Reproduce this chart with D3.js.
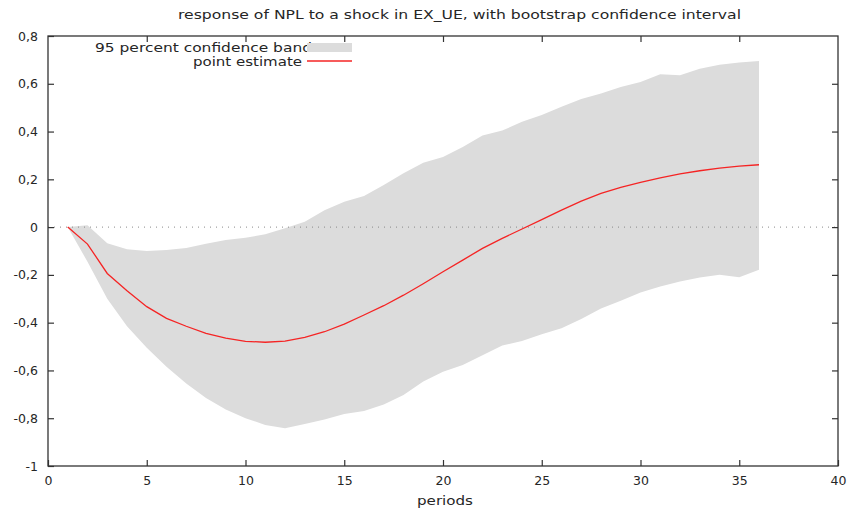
<!DOCTYPE html>
<html>
<head>
<meta charset="utf-8">
<script src="https://cdn.jsdelivr.net/npm/d3@7"></script>
<style>
    body { margin: 0; background: #fff; }
    text { font-family: "DejaVu Sans", sans-serif; fill: #262626; }
</style>
</head>
<body>
<svg id="chart" width="850" height="508"></svg>
<script>
// impulse response
var periods = [1, 2, 3, 4, 5, 6, 7, 8, 9, 10, 11, 12, 13, 14, 15, 16, 17, 18,
               19, 20, 21, 22, 23, 24, 25, 26, 27, 28, 29, 30, 31, 32, 33, 34, 35, 36];

var estimate = [0, -0.071, -0.194, -0.266, -0.333, -0.382, -0.415, -0.445, -0.465, -0.478,
                -0.482, -0.477, -0.462, -0.438, -0.406, -0.368, -0.329, -0.285, -0.237, -0.187,
                -0.138, -0.089, -0.047, -0.008, 0.031, 0.071, 0.109, 0.141, 0.166, 0.187,
                0.206, 0.223, 0.236, 0.247, 0.255, 0.261];

var upper = [0, 0.008, -0.068, -0.093, -0.100, -0.096, -0.087, -0.070, -0.054, -0.045,
             -0.030, -0.005, 0.022, 0.071, 0.106, 0.130, 0.176, 0.225, 0.269, 0.294,
             0.335, 0.383, 0.404, 0.441, 0.469, 0.504, 0.536, 0.559, 0.586, 0.607,
             0.640, 0.636, 0.663, 0.680, 0.689, 0.695];

var lower = [0, -0.145, -0.300, -0.415, -0.505, -0.585, -0.655, -0.715, -0.763, -0.800,
             -0.828, -0.842, -0.824, -0.805, -0.782, -0.770, -0.743, -0.703, -0.646, -0.605,
             -0.577, -0.536, -0.496, -0.477, -0.448, -0.423, -0.385, -0.341, -0.308, -0.274,
             -0.249, -0.228, -0.211, -0.199, -0.210, -0.178];

var xTicks = [0, 5, 10, 15, 20, 25, 30, 35, 40];
var yTicks = [-1, -0.8, -0.6, -0.4, -0.2, 0, 0.2, 0.4, 0.6, 0.8];

var titleText = "response of NPL to a shock in EX_UE, with bootstrap confidence interval";
var xLabel = "periods";
var legendLabels = ["95 percent confidence band", "point estimate"];

var margin = {left: 48, right: 12, top: 36, bottom: 42};
var width = 850, height = 508;

var svg = d3.select("#chart");

var x = d3.scaleLinear().domain([0, 40]).range([margin.left, width - margin.right]);
var y = d3.scaleLinear().domain([-1, 0.8]).range([height - margin.bottom, margin.top]);

var rows = periods.map(function(p, i) {
    return {p: p, est: estimate[i], lo: lower[i], hi: upper[i]};
});

// confidence band
svg.append("path")
    .datum(rows)
    .attr("fill", "#dcdcdc")
    .attr("d", d3.area()
        .x(function(d) { return x(d.p); })
        .y0(function(d) { return y(d.lo); })
        .y1(function(d) { return y(d.hi); }));

// zero line
svg.append("line")
    .attr("x1", x(0)).attr("x2", x(40))
    .attr("y1", y(0)).attr("y2", y(0))
    .attr("stroke", "#8a8a8a")
    .attr("stroke-width", 1)
    .attr("stroke-dasharray", "1,5");

// point estimate
svg.append("path")
    .datum(rows)
    .attr("fill", "none")
    .attr("stroke", "#f52424")
    .attr("stroke-width", 1.3)
    .attr("d", d3.line()
        .x(function(d) { return x(d.p); })
        .y(function(d) { return y(d.est); }));

// axes, gnuplot style: ticks inside on all four sides
// plain hyphen and decimal comma, like the original
var fmt = function(v) { return String(+v.toFixed(1)).replace(".", ","); };
var tickLen = 6;

function mirrorAxis(axis, transform) {
    var g = svg.append("g")
        .attr("transform", transform)
        .call(axis);
    g.select(".domain").remove();
    g.selectAll(".tick line").attr("stroke", "#333").attr("stroke-width", 1.2);
    return g;
}

mirrorAxis(d3.axisBottom(x).tickValues(xTicks).tickSizeInner(-tickLen).tickPadding(10)
        .tickFormat(function(d) { return String(d); }),
    "translate(0," + y(-1) + ")");
mirrorAxis(d3.axisTop(x).tickValues(xTicks.slice(1, -1)).tickSizeInner(-tickLen).tickFormat(""),
    "translate(0," + y(0.8) + ")");
mirrorAxis(d3.axisLeft(y).tickValues(yTicks).tickSizeInner(-tickLen).tickPadding(10)
        .tickFormat(fmt),
    "translate(" + x(0) + ",0)");
mirrorAxis(d3.axisRight(y).tickValues(yTicks.slice(1, -1)).tickSizeInner(-tickLen).tickFormat(""),
    "translate(" + x(40) + ",0)");

svg.selectAll(".tick text")
    .attr("font-family", "DejaVu Sans")
    .attr("font-size", 12.5)
    .attr("fill", "#262626");

svg.append("rect")
    .attr("x", x(0)).attr("y", y(0.8))
    .attr("width", x(40) - x(0)).attr("height", y(-1) - y(0.8))
    .attr("fill", "none")
    .attr("stroke", "#333")
    .attr("stroke-width", 1.3);

// title and axis label
svg.append("text")
    .attr("x", 178).attr("y", 19)
    .attr("font-size", 12.5)
    .attr("textLength", 563)
    .attr("lengthAdjust", "spacingAndGlyphs")
    .text(titleText);

svg.append("text")
    .attr("x", 417).attr("y", 505)
    .attr("font-size", 12.5)
    .attr("textLength", 56)
    .attr("lengthAdjust", "spacingAndGlyphs")
    .text(xLabel);

// legend (swatch painted over the end of the first label, as in gnuplot)
svg.append("text")
    .attr("x", 95).attr("y", 52)
    .attr("font-size", 12.5)
    .attr("textLength", 217)
    .attr("lengthAdjust", "spacingAndGlyphs")
    .text(legendLabels[0]);

svg.append("text")
    .attr("x", 193).attr("y", 65.5)
    .attr("font-size", 12.5)
    .attr("textLength", 109)
    .attr("lengthAdjust", "spacingAndGlyphs")
    .text(legendLabels[1]);

svg.append("rect")
    .attr("x", 307).attr("y", 43)
    .attr("width", 45).attr("height", 9)
    .attr("fill", "#dcdcdc");

svg.append("line")
    .attr("x1", 307).attr("x2", 352)
    .attr("y1", 61).attr("y2", 61)
    .attr("stroke", "#f52424")
    .attr("stroke-width", 1.3);
</script>
</body>
</html>
